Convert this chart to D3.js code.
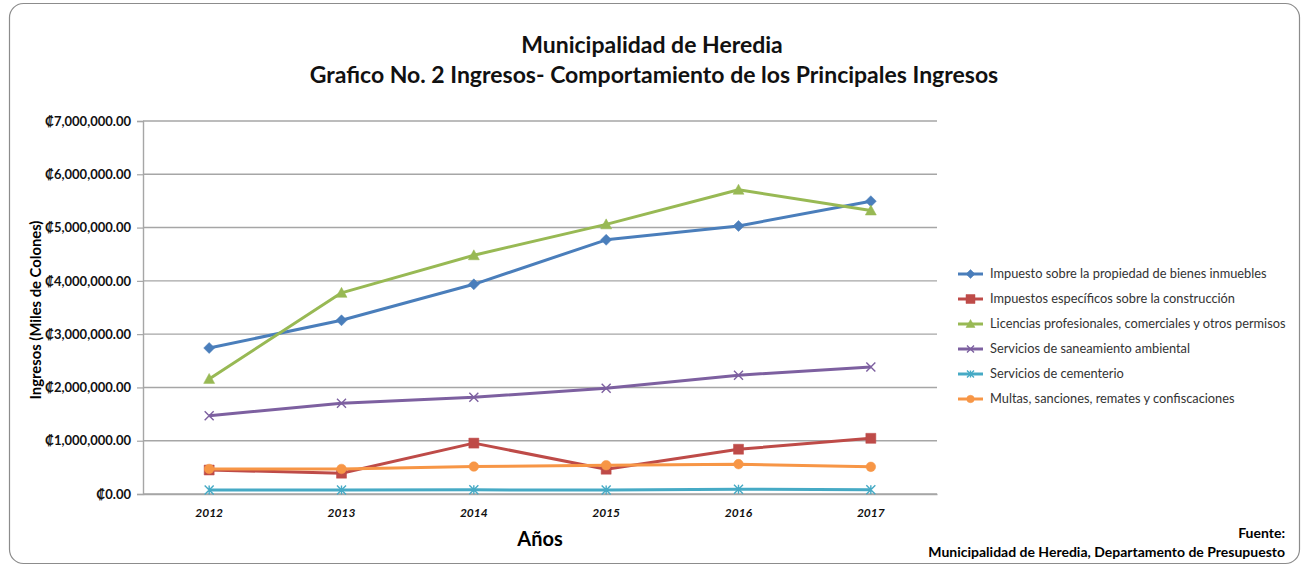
<!DOCTYPE html>
<html>
<head>
<meta charset="utf-8">
<script src="https://cdn.jsdelivr.net/npm/d3@7"></script>
<style>
  body { margin: 0; background: #fff; }
  text { font-family: Lato, "Open Sans", sans-serif; }
</style>
</head>
<body>
<div id="chart"></div>
<script>
var years = ["2012", "2013", "2014", "2015", "2016", "2017"];

var seriesNames = [
    "Impuesto sobre la propiedad de bienes inmuebles",
    "Impuestos específicos sobre la construcción",
    "Licencias profesionales, comerciales y otros permisos",
    "Servicios de saneamiento ambiental",
    "Servicios de cementerio",
    "Multas, sanciones, remates y confiscaciones"
];

var impuestoBienes = [2740000, 3260000, 3935000, 4770000, 5030000, 5495000];
var impuestoConstruccion = [450000, 390000, 955000, 465000, 840000, 1045000];
var licencias = [2160000, 3775000, 4480000, 5060000, 5710000, 5320000];
var saneamiento = [1470000, 1705000, 1815000, 1985000, 2230000, 2385000];
var cementerio = [75000, 75000, 78000, 74000, 90000, 78000];
var multas = [470000, 470000, 515000, 540000, 560000, 510000];

var yTicks = [0, 1000000, 2000000, 3000000, 4000000, 5000000, 6000000, 7000000];

var colors = ["#4a7ebb", "#be4b48", "#98b954", "#7d60a0", "#46aac5", "#f79646"];
var markers = ["diamond", "square", "triangle", "cross", "star", "circle"];

var series = [impuestoBienes, impuestoConstruccion, licencias, saneamiento, cementerio, multas]
    .map(function(v, i) {
        return {name: seriesNames[i], values: v, color: colors[i], marker: markers[i]};
    });

var W = 1304, H = 565;
var margin = {top: 121, right: 367, bottom: 71, left: 143};

var svg = d3.select("#chart").append("svg")
    .attr("width", W)
    .attr("height", H);

// chart frame
svg.append("rect")
    .attr("x", 9.5).attr("y", 3.5)
    .attr("width", 1290).attr("height", 560)
    .attr("rx", 14)
    .attr("fill", "#fff")
    .attr("stroke", "#8c8c8c")
    .attr("stroke-width", 1.2);

var x = d3.scaleBand()
    .domain(years)
    .range([margin.left, W - margin.right]);

var y = d3.scaleLinear()
    .domain([0, 7000000])
    .range([H - margin.bottom, margin.top]);

var colon = function(d) { return "\u20a1" + d3.format(",.2f")(d); };

// gridlines
svg.append("g").selectAll("line")
    .data(yTicks)
    .enter().append("line")
    .attr("x1", margin.left).attr("x2", W - margin.right)
    .attr("y1", function(d) { return y(d); })
    .attr("y2", function(d) { return y(d); })
    .attr("stroke", "#a6a6a6")
    .attr("stroke-width", 1.4);

var yAxis = svg.append("g")
    .attr("transform", "translate(" + margin.left + ",0)")
    .call(d3.axisLeft(y).tickValues(yTicks).tickFormat(colon).tickSize(6).tickPadding(6));
yAxis.select(".domain").attr("stroke", "#a6a6a6").attr("stroke-width", 1.4);
yAxis.selectAll(".tick line").attr("stroke", "#a6a6a6").attr("stroke-width", 1.2);
yAxis.selectAll(".tick text")
    .attr("fill", "#111")
    .style("font-size", "13px")
    .style("font-weight", "bold");

var xAxis = svg.append("g")
    .attr("transform", "translate(0," + (H - margin.bottom) + ")")
    .call(d3.axisBottom(x).tickSize(0).tickPadding(14));
xAxis.select(".domain").attr("stroke", "#a6a6a6").attr("stroke-width", 1.4);
xAxis.selectAll(".tick text")
    .attr("fill", "#111")
    .style("font-size", "12px")
    .style("font-weight", "bold")
    .style("font-style", "italic");

function markerPath(type, s) {
    var h = s / 2;
    if (type === "diamond") return "M0," + (-h - 1) + "L" + (h + 1) + ",0L0," + (h + 1) + "L" + (-h - 1) + ",0Z";
    if (type === "square") return "M" + (-h) + "," + (-h) + "h" + s + "v" + s + "h" + (-s) + "Z";
    if (type === "triangle") return "M0," + (-h - 1) + "L" + (h + 1) + "," + (h) + "L" + (-h - 1) + "," + (h) + "Z";
    if (type === "cross") return "M" + (-h) + "," + (-h) + "L" + h + "," + h + "M" + (-h) + "," + h + "L" + h + "," + (-h);
    if (type === "star") return "M" + (-h) + "," + (-h) + "L" + h + "," + h + "M" + (-h) + "," + h + "L" + h + "," + (-h) + "M0," + (-h) + "V" + h;
    return d3.symbol().type(d3.symbolCircle).size(s * s * 0.9)();
}

function drawMarker(g, d, size) {
    var open = d.marker === "cross" || d.marker === "star";
    g.append("path")
        .attr("d", markerPath(d.marker, size))
        .attr("fill", open ? "none" : d.color)
        .attr("stroke", d.color)
        .attr("stroke-width", open ? 1.4 : 0.5);
}

var line = d3.line()
    .x(function(d, i) { return x(years[i]) + x.bandwidth() / 2; })
    .y(function(d) { return y(d); });

var seriesG = svg.append("g").selectAll("g")
    .data(series)
    .enter().append("g");

seriesG.append("path")
    .attr("d", function(d) { return line(d.values); })
    .attr("fill", "none")
    .attr("stroke", function(d) { return d.color; })
    .attr("stroke-width", 3)
    .attr("stroke-linejoin", "round");

seriesG.each(function(d) {
    var g = d3.select(this);
    d.values.forEach(function(v, i) {
        var m = g.append("g")
            .attr("transform", "translate(" + (x(years[i]) + x.bandwidth() / 2) + "," + y(v) + ")");
        drawMarker(m, d, d.marker === "square" ? 10 : 9);
    });
});

// legend
var legend = svg.append("g").selectAll("g")
    .data(series)
    .enter().append("g")
    .attr("transform", function(d, i) { return "translate(958," + (274 + i * 25) + ")"; });

legend.append("line")
    .attr("x1", 0).attr("x2", 25)
    .attr("stroke", function(d) { return d.color; })
    .attr("stroke-width", 3);

legend.each(function(d) {
    var m = d3.select(this).append("g").attr("transform", "translate(12.5,0)");
    drawMarker(m, d, d.marker === "square" ? 9 : 7);
});

legend.append("text")
    .attr("x", 32)
    .attr("dy", "0.35em")
    .attr("fill", "#333")
    .style("font-size", "12.8px")
    .text(function(d) { return d.name; });

// titles
var title = svg.append("g")
    .attr("text-anchor", "middle")
    .attr("fill", "#111")
    .style("font-weight", "bold")
    .style("font-size", "23px");
title.append("text").attr("x", 652).attr("y", 53).text("Municipalidad de Heredia");
title.append("text").attr("x", 654).attr("y", 83).text("Grafico No. 2 Ingresos- Comportamiento de los Principales Ingresos");

svg.append("text")
    .attr("transform", "translate(41,310) rotate(-90)")
    .attr("text-anchor", "middle")
    .style("font-size", "14.8px")
    .style("font-weight", "bold")
    .text("Ingresos (Miles de Colones)");

svg.append("text")
    .attr("x", 540).attr("y", 546)
    .attr("text-anchor", "middle")
    .style("font-size", "20px")
    .style("font-weight", "bold")
    .text("Años");

var fuente = svg.append("g")
    .attr("text-anchor", "end")
    .style("font-size", "14px")
    .style("font-weight", "bold");
fuente.append("text").attr("x", 1285).attr("y", 538).text("Fuente:");
fuente.append("text").attr("x", 1285).attr("y", 557).text("Municipalidad de Heredia, Departamento de Presupuesto");
</script>
</body>
</html>
